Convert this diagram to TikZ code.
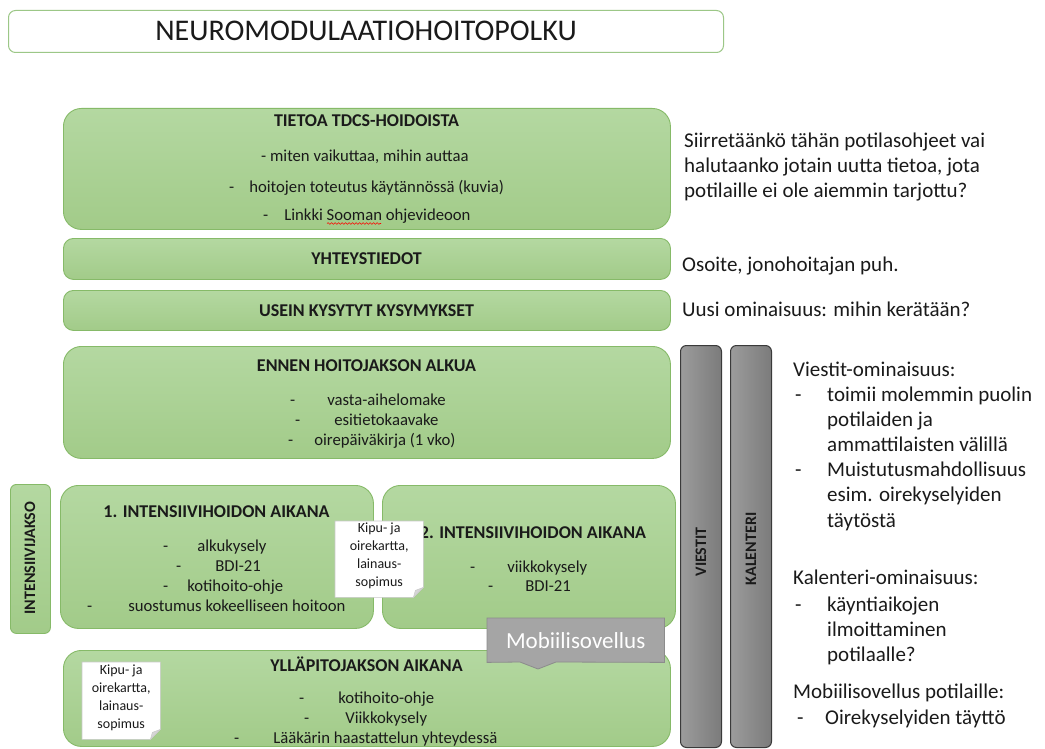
\documentclass[tikz,border=0pt]{standalone}
\usepackage{fontspec}
\setmainfont{Carlito}
\usetikzlibrary{decorations.pathmorphing}
\definecolor{gtop}{HTML}{B4D8A1}
\definecolor{gbot}{HTML}{A2CB89}
\definecolor{gborder}{HTML}{86BA68}
\definecolor{tborder}{HTML}{9CC787}
\definecolor{barl}{HTML}{9C9C9C}
\definecolor{barr}{HTML}{7B7B7B}
\definecolor{bardraw}{HTML}{3A3A3A}
\definecolor{mobfill}{HTML}{A5A5A5}
\definecolor{mobdraw}{HTML}{8C8C8C}
\definecolor{notedraw}{HTML}{C9C9C9}
\definecolor{foldc}{HTML}{D6D6D6}
\definecolor{txt}{HTML}{1A1A1A}
\newcommand{\dl}[2]{-\hspace{#1pt}#2}
\begin{document}
\begin{tikzpicture}[x=1pt,y=-1pt,
  gbox/.style={draw=gborder,line width=0.9pt,rounded corners=18pt,top color=gtop,bottom color=gbot,inner sep=0,anchor=north west},
  sbox/.style={draw=gborder,line width=0.9pt,rounded corners=6pt,top color=gtop,bottom color=gbot,inner sep=0,anchor=north west},
  tbox/.style={draw=tborder,line width=1pt,rounded corners=7pt,fill=white,inner sep=0,anchor=north west},
  bar/.style={draw=bardraw,line width=1pt,rounded corners=6pt,left color=barl,right color=barr,inner sep=0,anchor=north west},
  ttl/.style={font=\fontsize{18}{22}\selectfont\bfseries,text=txt,inner sep=0,anchor=base},
  itm/.style={font=\fontsize{16.7}{20}\selectfont,text=txt,inner sep=0,anchor=base west},
  rtxt/.style={font=\fontsize{21}{25}\selectfont,text=txt,inner sep=0,anchor=base west},
  ntxt/.style={font=\fontsize{14}{18}\selectfont,text=txt,inner sep=0,anchor=base},
  vlab/.style={font=\fontsize{16}{20}\selectfont\bfseries,text=txt,inner sep=0,rotate=90},
  notebox/.style={inner sep=0,anchor=north west,draw=none}
]
\useasboundingbox (0,0) rectangle (1045,749);
\fill[white] (0,0) rectangle (1045,749);

% title
\node[tbox,minimum width=715pt,minimum height=42pt] (titlebox) at (8,10) {};
\node[font=\fontsize{30}{36}\selectfont,text=txt,inner sep=0,anchor=base] (title) at (366,41) {NEUROMODULAATIOHOITOPOLKU};

% green boxes
\node[gbox,minimum width=607pt,minimum height=121pt] (tietoa) at (63,108) {};
\node[gbox,rounded corners=10pt,minimum width=607pt,minimum height=41pt] (yht) at (63,238) {};
\node[gbox,rounded corners=10pt,minimum width=607pt,minimum height=40pt] (usein) at (63,290) {};
\node[gbox,minimum width=607pt,minimum height=112pt] (ennen) at (63,346) {};
\node[sbox,minimum width=40pt,minimum height=149pt] (ijakso) at (10,484) {};
\node[gbox,minimum width=313pt,minimum height=143pt] (int1) at (60,485) {};
\node[gbox,minimum width=293pt,minimum height=143pt] (int2) at (382,485) {};
\node[gbox,minimum width=607pt,minimum height=96pt] (yll) at (63,650) {};

% bars
\node[bar,minimum width=41pt,minimum height=402pt] (viestit) at (680,345) {};
\node[bar,minimum width=41pt,minimum height=402pt] (kalenteri) at (730,345) {};
\node[vlab] (viestitlab) at (viestit.center |- 0,552) {VIESTIT};
\node[vlab] (kallab) at (kalenteri.center |- 0,549) {KALENTERI};
\node[vlab] (ijaksolab) at (30,558) {INTENSIIVIJAKSO};

% texts in TIETOA
\node[ttl] (tietoat) at (366.5,127) {TIETOA TDCS-HOIDOISTA};
\node[itm] (tie1) at (261,162) {- miten vaikuttaa, mihin auttaa};
\node[itm] (tie2) at (229,193) {\dl{15}{hoitojen toteutus käytännössä (kuvia)}};
\node[itm] (tie3) at (263,220) {\dl{16}{Linkki Sooman ohjevideoon}};
\draw[red,line width=0.6pt,decorate,decoration={snake,amplitude=0.8pt,segment length=3.5pt}] (327,223.5) -- (381,223.5);

\node[ttl] (yhtt) at (366.5,264.5) {YHTEYSTIEDOT};
\node[ttl] (useint) at (366.5,316) {USEIN KYSYTYT KYSYMYKSET};

% ENNEN
\node[ttl] (ennent) at (366.5,371) {ENNEN HOITOJAKSON ALKUA};
\node[itm] (en1) at (290,405) {\dl{32}{vasta-aihelomake}};
\node[itm] (en2) at (295,425) {\dl{34}{esitietokaavake}};
\node[itm] (en3) at (288,445) {\dl{21}{oirepäiväkirja (1 vko)}};

% intensive 1
\node[ttl] (int1t) at (216.5,517) {1. INTENSIIVIHOIDON AIKANA};
\node[itm] (in1) at (163,551) {\dl{29}{alkukysely}};
\node[itm] (in2) at (176,571) {\dl{34}{BDI-21}};
\node[itm] (in3) at (163,591) {\dl{19}{kotihoito-ohje}};
\node[itm] (in4) at (87,611) {\dl{36}{suostumus kokeelliseen hoitoon}};

% intensive 2
\node[ttl] (int2t) at (533,538) {2. INTENSIIVIHOIDON AIKANA};
\node[itm] (iz1) at (470,572) {\dl{32}{viikkokysely}};
\node[itm] (iz2) at (488,591) {\dl{32}{BDI-21}};

% yllapito
\node[ttl] (yllt) at (366.5,671) {YLLÄPITOJAKSON AIKANA};
\node[itm] (yl1) at (299,703) {\dl{34}{kotihoito-ohje}};
\node[itm] (yl2) at (304,723) {\dl{36}{Viikkokysely}};
\node[itm] (yl3) at (234,743) {\dl{34}{Lääkärin haastattelun yhteydessä}};

% notes
\node[notebox,minimum width=88pt,minimum height=76pt] (note1) at (335,521) {};
\node[notebox,minimum width=78pt,minimum height=77pt] (note2) at (82,662) {};
\foreach \n in {note1,note2}{
  \filldraw[fill=white,draw=notedraw,line width=0.6pt] (\n.north west) -- (\n.north east) -- ([yshift=10pt]\n.south east) -- ([xshift=-10pt]\n.south east) -- (\n.south west) -- cycle;
  \filldraw[fill=foldc,draw=notedraw,line width=0.5pt] ([yshift=10pt]\n.south east) -- ([xshift=-10pt]\n.south east) -- ([xshift=-8pt,yshift=7pt]\n.south east) -- cycle;
}
\node[ntxt] (n1a) at (note1.center |- 0,532) {Kipu- ja};
\node[ntxt] (n1b) at (note1.center |- 0,550) {oirekartta,};
\node[ntxt] (n1c) at (note1.center |- 0,568) {lainaus-};
\node[ntxt] (n1d) at (note1.center |- 0,586) {sopimus};
\node[ntxt] (n2a) at (note2.center |- 0,674) {Kipu- ja};
\node[ntxt] (n2b) at (note2.center |- 0,692) {oirekartta,};
\node[ntxt] (n2c) at (note2.center |- 0,710) {lainaus-};
\node[ntxt] (n2d) at (note2.center |- 0,728) {sopimus};

% mobiilisovellus callout
\node[inner sep=0,anchor=north west,minimum width=177pt,minimum height=44pt] (mob) at (487,618) {};
\coordinate (mobtip) at (538,669);
\filldraw[fill=mobfill,draw=mobdraw,line width=0.8pt] (mob.north west) -- (mob.north east) -- (mob.south east) -- (556,662) -- (mobtip) -- (520,662) -- (mob.south west) -- cycle;
\node[font=\fontsize{23}{28}\selectfont,text=white,inner sep=0,anchor=base] (mobt) at (mob.center |- 0,648) {Mobiilisovellus};

% right-hand texts
\node[rtxt] (r1) at (684,148) {Siirretäänkö tähän potilasohjeet vai};
\node[rtxt] (r2) at (684,173) {halutaanko jotain uutta tietoa, jota};
\node[rtxt] (r3) at (684,198) {potilaille ei ole aiemmin tarjottu?};
\node[rtxt] (r4) at (682,271) {Osoite, jonohoitajan puh.};
\node[rtxt] (r5) at (682,316) {Uusi ominaisuus: mihin kerätään?};

\node[rtxt] (v0) at (793,376) {Viestit-ominaisuus:};
\node[rtxt] (v1d) at (795,401) {-};
\node[rtxt] (v1) at (827,401) {toimii molemmin puolin};
\node[rtxt] (v2) at (827,426) {potilaiden ja};
\node[rtxt] (v3) at (827,451) {ammattilaisten välillä};
\node[rtxt] (v4d) at (795,476) {-};
\node[rtxt] (v4) at (827,476) {Muistutusmahdollisuus};
\node[rtxt] (v5) at (827,501) {esim. oirekyselyiden};
\node[rtxt] (v6) at (827,527) {täytöstä};

\node[rtxt] (k0) at (793,584) {Kalenteri-ominaisuus:};
\node[rtxt] (k1d) at (795,611) {-};
\node[rtxt] (k1) at (827,611) {käyntiaikojen};
\node[rtxt] (k2) at (827,636) {ilmoittaminen};
\node[rtxt] (k3) at (827,661) {potilaalle?};

\node[rtxt] (m0) at (793,698) {Mobiilisovellus potilaille:};
\node[rtxt] (m1d) at (797,724) {-};
\node[rtxt] (m1) at (825,724) {Oirekyselyiden täyttö};
\end{tikzpicture}
\end{document}
